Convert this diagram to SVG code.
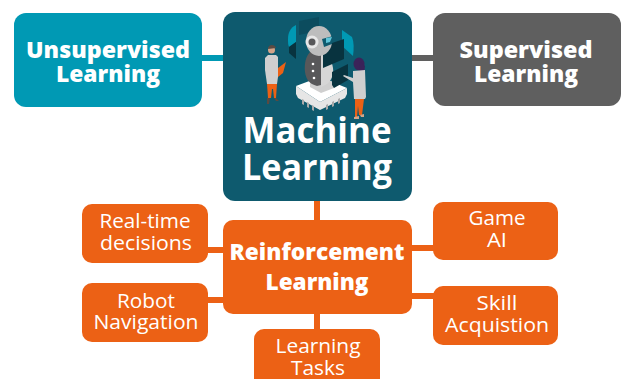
<svg xmlns="http://www.w3.org/2000/svg" width="622" height="379" viewBox="0 0 622 379">
<style>
text{font-family:"Open Sans","Liberation Sans",sans-serif;fill:#fff;text-anchor:middle}
.b{font-weight:800;font-size:23px}
.m{font-weight:700;font-size:36px}
.s{font-size:20px;font-weight:400}
.o{fill:#ec6115}
</style>
<g id="connectors">
<path d="M201 58H224" stroke="#0099b4" stroke-width="6"/>
<path d="M411 58H434" stroke="#5f5f5f" stroke-width="6"/>
<path d="M317 199V221M317 313V330M207 250H224M207 300H224M411 248H434M411 296H434" stroke="#ec6115" stroke-width="6"/>
</g>
<g id="unsupervised">
<rect x="14" y="13" width="188" height="94" rx="12" fill="#0099b4"/>
<text class="b" x="108" y="58" textLength="164" lengthAdjust="spacingAndGlyphs">Unsupervised</text>
<text class="b" x="108" y="82" textLength="104" lengthAdjust="spacingAndGlyphs">Learning</text>
</g>
<g id="supervised">
<rect x="433" y="13" width="188" height="93" rx="12" fill="#5f5f5f"/>
<text class="b" x="526" y="58" textLength="133" lengthAdjust="spacingAndGlyphs">Supervised</text>
<text class="b" x="526" y="82" textLength="104" lengthAdjust="spacingAndGlyphs">Learning</text>
</g>
<g id="machine-learning">
<rect x="223" y="12" width="189" height="189" rx="12" fill="#0e5a6e"/>
<path d="M299 21l20-4v14l-20 4z" fill="#0c4c5e"/>
<path d="M296 25c-6 3-8 8-8 14 0 3 0 6 1 8l7-5z" fill="#0099b4"/>
<path d="M289 47l7-5v17l-7-6z" fill="#08333f"/>
<path d="M342 30l10 7c2 5 2 12 1 19l-11-10z" fill="#0099b4"/>
<path d="M296 86l24-9 27 11-27 14z" fill="#fff"/>
<path d="M296 86l24 16v8l-22-12-2-4zM347 88l-27 14v8l25-12 2-4z" fill="#e6e6e6"/>
<path d="M302 99l2 1v5l-2-1zM307 102l2 1v5l-2-1zM312 105l2 1v5l-2-1zM326 105l2-1v5l-2 1zM332 102l2-1v5l-2 1zM338 99l2-1v5l-2 1z" fill="#aaa"/>
<path d="M310 81l10-4 16 6-2 5-13 5-11-6z" fill="#cfcfcf"/>
<path d="M310 52c-4 4-6 12-5 20 1 7 4 12 12 14l4-1V52z" fill="#58585a"/>
<path d="M321 52c6 2 11 8 12 16 1 7-2 13-6 16l-6 3z" fill="#d6d6d6"/>
<path d="M323 46l21-7v20l-21 9z" fill="#08333f"/>
<path d="M332 72l16-8v16l-14 8-2-3z" fill="#08333f"/>
<circle cx="313" cy="64" r="1.300" fill="#fff"/><circle cx="313" cy="71" r="1.300" fill="#fff"/><circle cx="314" cy="78" r="1.300" fill="#fff"/>
<ellipse cx="319" cy="41" rx="13" ry="15" fill="#bdbdbd"/>
<circle cx="312" cy="42" r="6.500" fill="#e8e8e8"/>
<circle cx="312" cy="42" r="3.500" fill="#58585a"/>
<path d="M322 39l11-3-1 8-8 3z" fill="#0e5a6e"/><path d="M326 38l6-1-2 5-4 1z" fill="#5fc4d8"/>
<g id="man">
<circle cx="271.500" cy="50" r="3.500" fill="#d3a58a"/>
<path d="M268 49c0-5 7-5 8-1z" fill="#5a4a42"/>
<path d="M268 55l8 0 2 2v20l-1 7h-10l-2-14v-12z" fill="#cfcfcf"/>
<path d="M267 84h10l-1 14h-2l-1-9-1 0-1 9h-3z" fill="#ec6115"/>
<path d="M267 98h3l-1 6h-2zM274 98h2l3 3-3 0z" fill="#5a4a42"/>
<path d="M278 68l8-6-3 11-5 4z" fill="#ec6115"/>
</g>
<g id="woman">
<ellipse cx="359" cy="64" rx="5.500" ry="6.500" fill="#3b2359"/>
<path d="M360 62l5 4-1 8-5-2z" fill="#3b2359"/>
<path d="M353 71l12-1 1 27-1 2h-11l-1-17-10-6 1-1 9 3z" fill="#cfcfcf"/>
<path d="M355 99h9l-2 16h-3l-1-9-1 11h-2z" fill="#ec6115"/>
<path d="M354 117l5-1 0 3-5 0zM360 115l4-1 0 3-3 0z" fill="#d3a58a"/>
</g>
<text class="m" x="317" y="143" textLength="149" lengthAdjust="spacingAndGlyphs">Machine</text>
<text class="m" x="317" y="180" textLength="150" lengthAdjust="spacingAndGlyphs">Learning</text>
</g>
<g id="reinforcement">
<rect class="o" x="223" y="220" width="189" height="94" rx="10"/>
<text class="b" x="317" y="260" textLength="175" lengthAdjust="spacingAndGlyphs">Reinforcement</text>
<text class="b" x="317" y="290" textLength="103" lengthAdjust="spacingAndGlyphs">Learning</text>
</g>
<g id="real-time">
<rect class="o" x="82" y="204" width="126" height="59" rx="10"/>
<text class="s" x="145" y="228" textLength="91" lengthAdjust="spacingAndGlyphs">Real-time</text>
<text class="s" x="146" y="250" textLength="92" lengthAdjust="spacingAndGlyphs">decisions</text>
</g>
<g id="robot">
<rect class="o" x="82" y="283" width="126" height="59" rx="10"/>
<text class="s" x="146" y="308" textLength="58" lengthAdjust="spacingAndGlyphs">Robot</text>
<text class="s" x="146" y="329" textLength="105" lengthAdjust="spacingAndGlyphs">Navigation</text>
</g>
<g id="tasks">
<rect class="o" x="254" y="329" width="126" height="60" rx="10"/>
<text class="s" x="318" y="353" textLength="85" lengthAdjust="spacingAndGlyphs">Learning</text>
<text class="s" x="318" y="375" textLength="54" lengthAdjust="spacingAndGlyphs">Tasks</text>
</g>
<g id="game">
<rect class="o" x="433" y="202" width="125" height="58" rx="10"/>
<text class="s" x="497" y="225" textLength="57" lengthAdjust="spacingAndGlyphs">Game</text>
<text class="s" x="497" y="247" textLength="20" lengthAdjust="spacingAndGlyphs">AI</text>
</g>
<g id="skill">
<rect class="o" x="433" y="286" width="125" height="59" rx="10"/>
<text class="s" x="497" y="310" textLength="41" lengthAdjust="spacingAndGlyphs">Skill</text>
<text class="s" x="497" y="332" textLength="104" lengthAdjust="spacingAndGlyphs">Acquistion</text>
</g>
</svg>
